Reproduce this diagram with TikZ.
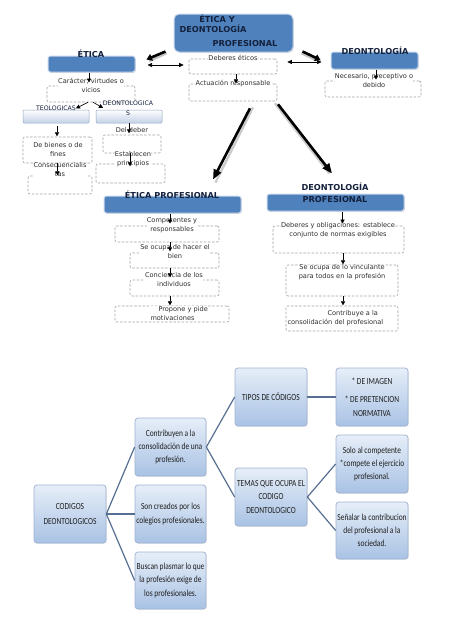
\documentclass[tikz,border=0pt]{standalone}
\usepackage{fontspec}
\setmainfont{DejaVu Sans}
\newfontfamily\narrowfont[FakeStretch=0.8]{Carlito}
\usetikzlibrary{arrows.meta,shadows,calc}
\definecolor{bluefill}{HTML}{4F81BD}
\definecolor{bluerim}{HTML}{C9D8EC}
\definecolor{headcol}{HTML}{14213D}
\definecolor{labcol}{HTML}{2E2E2E}
\definecolor{dashgray}{HTML}{A3A3A3}
\definecolor{graedge}{HTML}{93A7C4}
\definecolor{grabot}{HTML}{C3D1E5}
\definecolor{cedge}{HTML}{9FB3D1}
\definecolor{ctop}{HTML}{E6EEF8}
\definecolor{cbot}{HTML}{A9C2E4}
\definecolor{ctext}{HTML}{1E1E1E}
\definecolor{conncol}{HTML}{566F93}
\tikzset{
  bluebox/.style={draw=bluerim, line width=1pt, fill=bluefill, rounded corners=2.5pt, inner sep=0pt,
     drop shadow={shadow xshift=0.8pt, shadow yshift=-0.8pt, opacity=0.35}},
  dbox/.style={draw=dashgray, dash pattern=on 2.5pt off 1.6pt, rounded corners=2pt, inner sep=0pt, line width=0.6pt},
  gbox/.style={draw=graedge, top color=white, bottom color=grabot, rounded corners=1pt, inner sep=0pt, line width=0.5pt},
  cbox/.style={draw=cedge, top color=ctop, bottom color=cbot, rounded corners=3pt, inner sep=0pt, line width=0.7pt,
     drop shadow={shadow xshift=0.7pt, shadow yshift=-0.7pt, opacity=0.25},
     font=\narrowfont\fontsize{9.3}{13.3}\selectfont, align=center, text=ctext},
  head/.style={font=\bfseries\fontsize{8.2}{12}\selectfont, text=headcol, inner sep=0pt, align=center},
  lab/.style={font=\fontsize{6.6}{9}\selectfont, text=labcol, align=center, inner sep=0.3pt, fill=white},
  capl/.style={font=\fontsize{6.2}{10}\selectfont, text=headcol, align=center, inner sep=0.3pt},
  sarrow/.style={-{Triangle[length=4pt,width=4.2pt]}, line width=0.6pt, black},
  darrow/.style={{Triangle[length=4.5pt,width=4pt]}-{Triangle[length=4.5pt,width=4pt]}, line width=0.6pt, black},
  tarrow/.style={-{Triangle[length=5.5pt,width=7pt]}, line width=2.6pt, black},
  tshadow/.style={line width=2.8pt, gray!45},
  barrow/.style={-{Triangle[length=10pt,width=8pt]}, line width=2.6pt, black},
  conn/.style={draw=conncol, line width=1.2pt},
}
\begin{document}
\begin{tikzpicture}[x=1pt,y=-1pt]
\useasboundingbox (0,0) rectangle (474,632);
\fill[white] (0,0) rectangle (474,632);

% ---------- top section boxes ----------
\node[bluebox, rounded corners=5pt, minimum width=119pt, minimum height=38pt] (title) at (233.5,33) {};
\node[bluebox, minimum width=87pt, minimum height=16pt] (etica) at (91.5,64) {};
\node[bluebox, minimum width=87pt, minimum height=17pt] (deon) at (374.5,60.5) {};
\node[dbox, minimum width=88pt, minimum height=15pt] (deb) at (233,66.5) {};
\node[dbox, minimum width=88pt, minimum height=17pt] (act) at (233,92.5) {};
\node[dbox, minimum width=96pt, minimum height=16pt] (nec) at (373,89) {};
\node[dbox, minimum width=88pt, minimum height=16pt] (car) at (91,94) {};
\node[gbox, minimum width=66pt, minimum height=13pt] (teo) at (56,116.5) {};
\node[gbox, minimum width=66pt, minimum height=13pt] (deo2) at (129,116.5) {};
\node[dbox, minimum width=69pt, minimum height=26pt] (bien) at (57.5,150) {};
\node[dbox, minimum width=64pt, minimum height=18pt] (cons) at (60,185) {};
\node[dbox, minimum width=58pt, minimum height=18pt] (deber) at (132,144) {};
\node[dbox, minimum width=69pt, minimum height=19pt] (estab) at (130.5,173.5) {};

% ---------- middle section boxes ----------
\node[bluebox, minimum width=137pt, minimum height=17pt] (ep) at (172.5,204.5) {};
\node[bluebox, minimum width=137pt, minimum height=17pt] (dp) at (335.5,202.5) {};
\node[dbox, minimum width=104pt, minimum height=16pt] (comp) at (167,234) {};
\node[dbox, minimum width=89pt, minimum height=15pt] (hac) at (174.5,260.5) {};
\node[dbox, minimum width=89pt, minimum height=16pt] (conc) at (174.5,288) {};
\node[dbox, minimum width=114pt, minimum height=16pt] (prop) at (172,314) {};
\node[dbox, minimum width=131pt, minimum height=27pt] (obl) at (338.5,239.5) {};
\node[dbox, minimum width=112pt, minimum height=31pt] (vinc) at (342,280.5) {};
\node[dbox, minimum width=112pt, minimum height=25pt] (contr) at (342,318.5) {};

% ---------- labels ----------
\node[head] (lt1) at (217,19) {ÉTICA Y};
\node[head] (lt2) at (213,29) {DEONTOLOGÍA};
\node[head] (lt3) at (245,44) {PROFESIONAL};
\node[head] (leti) at (91,54) {ÉTICA};
\node[head] (ldeo) at (375,51) {DEONTOLOGÍA};
\node[lab] (ldeb) at (233,58) {Deberes éticos};
\node[lab] (lact) at (233,84) {Actuación responsable};
\node[lab] (lnec) at (374,80.5) {Necesario, preceptivo o\\debido};
\node[lab] (lcar) at (91,85) {Carácter, virtudes o\\vicios};
\node[capl] (lteo) at (56,108) {TEOLOGICAS};
\node[capl] (ldeo2) at (128,108) {DEONTOLOGICA\\S};
\node[lab, fill=none] (lbien) at (58,150) {De bienes o de\\fines};
\node[lab] (lcons) at (60,170) {Consecuencialis\\tas};
\node[lab] (ldeber) at (132,130) {Del deber};
\node[lab] (lestab) at (133,159) {Establecen\\principios};
\node[head] (lep) at (172,195) {ÉTICA PROFESIONAL};
\node[head] (ldp) at (335,193) {DEONTOLOGÍA\\PROFESIONAL};
\node[lab] (lcomp) at (172,225.5) {Competentes y\\responsables};
\node[lab] (lhac) at (175,252) {Se ocupa de hacer el\\bien};
\node[lab] (lconc) at (174,279.5) {Conciencia de los\\individuos};
\node[lab, align=left, anchor=west] (lprop) at (150,313.5) {\hspace*{8pt}Propone y pide\\motivaciones};
\node[lab] (lobl) at (338,230.5) {Deberes y obligaciones: establece\\conjunto de normas exigibles};
\node[lab] (lvinc) at (342,272.5) {Se ocupa de lo vinculante\\para todos en la profesión};
\node[lab, align=left, anchor=west] (lcontr) at (287,318.5) {\hspace*{40pt}Contribuye a la\\consolidación del profesional};

% ---------- top arrows ----------
\draw[tshadow] ($(title.south west)+(-7,0.5)$) -- ($(etica.north east)+(13.5,5.5)$);
\draw[tarrow] ($(title.south west)+(-8,-1)$) -- ($(etica.north east)+(11,4)$);
\draw[tshadow] ($(title.south east)+(8,0.5)$) -- ($(deon.west)+(-10,1.5)$);
\draw[tarrow] ($(title.south east)+(9,-1)$) -- ($(deon.west)+(-10,-0.5)$);
\draw[darrow] ($(etica.east)+(12,1)$) -- ($(deb.west)+(-5,-1.5)$);
\draw[darrow] ($(deb.east)+(10,-4.5)$) -- ($(deon.west)+(-9,1.5)$);
\draw[sarrow] ($(etica.south)+(-2.5,0)$) -- ++(0,10);
\draw[sarrow] ($(car.south)+(-3,0)$) -- ($(car.south)+(-15,6)$);
\draw[sarrow] ($(car.south)+(2,0)$) -- ($(car.south)+(12,5.5)$);
\draw[sarrow] ($(teo.south)+(1,3)$) -- ++(0,10);
\draw[sarrow] (deo2.south) -- ++(0,10);
\draw[sarrow] (bien.south) -- ++(0,12);
\draw[sarrow] ($(deber.south)+(-2,0)$) -- ++(0,13);
\draw[sarrow] ($(deb.south)+(3,0)$) -- ++(0,9);
\draw[sarrow] ($(deon.south)+(1.5,0)$) -- ++(0,10);

% big arrows
\draw[line width=2.4pt, gray!40] ($(act.south)+(20,6)$) -- ($(ep.north)+(43,-13)$);
\draw[barrow] ($(act.south)+(17,7)$) -- ($(ep.north)+(40.5,-16)$);
\draw[line width=2.4pt, gray!40] ($(act.south)+(42,2)$) -- ($(dp.north)+(-6,-20)$);
\draw[barrow] ($(act.south)+(45,3)$) -- ($(dp.north)+(-3.5,-20)$);

% middle arrows
\draw[sarrow] ($(ep.south)+(-2.5,0)$) -- ++(0,10);
\draw[sarrow] ($(comp.south)+(3,0)$) -- ++(0,9);
\draw[sarrow] ($(hac.south)+(-4.5,0)$) -- ++(0,9);
\draw[sarrow] ($(conc.south)+(-4.5,0)$) -- ++(0,9);
\draw[sarrow] ($(dp.south)+(7,0)$) -- ++(0,12);
\draw[sarrow] ($(obl.south)+(4.5,0)$) -- ++(0,11);
\draw[sarrow] ($(vinc.south)+(1,0)$) -- ++(0,9);

% ---------- bottom section ----------
\node[cbox, minimum width=72pt, minimum height=58pt] (cod) at (70,514) {CODIGOS\\[1.5pt]DEONTOLOGICOS};
\node[cbox, minimum width=71pt, minimum height=58pt] (c1) at (170.5,447) {Contribuyen a la\\consolidación de una\\profesión.};
\node[cbox, minimum width=71pt, minimum height=58pt] (c2) at (170.5,514) {Son creados por los\\colegios profesionales.};
\node[cbox, minimum width=71pt, minimum height=57pt] (c3) at (170.5,580.5) {Buscan plasmar lo que\\la profesión exige de\\los profesionales.};
\node[cbox, minimum width=72pt, minimum height=58pt] (tipos) at (271,397) {TIPOS DE CÓDIGOS};
\node[cbox, minimum width=72pt, minimum height=58pt] (temas) at (271,497) {TEMAS QUE OCUPA EL\\CODIGO\\DEONTOLOGICO};
\node[cbox, minimum width=72pt, minimum height=58pt] (img) at (372,397) {* DE IMAGEN\\[5pt]* DE PRETENCION\\NORMATIVA};
\node[cbox, minimum width=72pt, minimum height=58pt] (solo) at (372,464) {Solo al competente\\*compete el ejercicio\\profesional.};
\node[cbox, minimum width=72pt, minimum height=57pt] (sen) at (372,530.5) {Señalar la contribucion\\del profesional a la\\sociedad.};

\draw[conn] (cod.east) -- (c1.west);
\draw[conn] (cod.east) -- (c2.west);
\draw[conn] (cod.east) -- (c3.west);
\draw[conn] (c1.east) -- (tipos.west);
\draw[conn] (c1.east) -- (temas.west);
\draw[conn] (tipos.east) -- (img.west);
\draw[conn] (temas.east) -- (solo.west);
\draw[conn] (temas.east) -- (sen.west);
\end{tikzpicture}
\end{document}
